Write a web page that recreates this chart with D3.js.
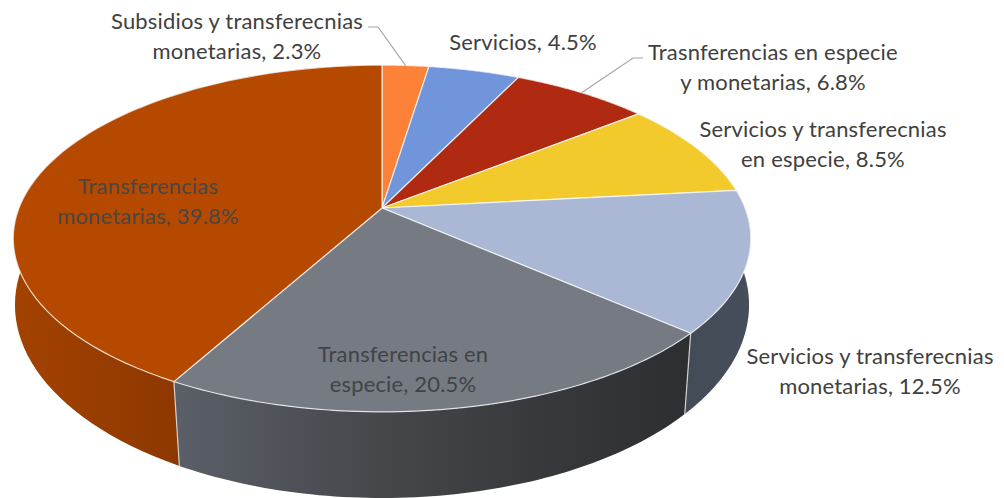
<!DOCTYPE html>
<html><head><meta charset="utf-8">
<script src="https://cdn.jsdelivr.net/npm/d3@7/dist/d3.min.js"></script>
<style>html,body{margin:0;padding:0;background:#fff}svg{display:block}</style>
</head><body><svg id="c" width="1004" height="498"></svg>
<script>
const categories = ["Subsidios y transferecnias monetarias","Servicios","Trasnferencias en especie y monetarias","Servicios y transferecnias en especie","Servicios y transferecnias monetarias","Transferencias en especie","Transferencias monetarias"];
const values = [2.3,4.5,6.8,8.5,12.5,20.5,39.8];
const topColors = ["#fd8237","#7195da","#b02a12","#f2ca2c","#abb8d5","#767a82","#b64900"];
const labelLines = [
  ["Subsidios y transferecnias","monetarias, 2.3%"],
  ["Servicios, 4.5%"],
  ["Trasnferencias en especie","y monetarias, 6.8%"],
  ["Servicios y transferecnias","en especie, 8.5%"],
  ["Servicios y transferecnias","monetarias, 12.5%"],
  ["Transferencias en","especie, 20.5%"],
  ["Transferencias","monetarias, 39.8%"]
];
const labelAnchors = [[237,29],[523,50],[773,60],[823,137],[870,364],[403,362],[148,194]];
const labelColors = ["#404040","#404040","#404040","#404040","#404040","#414347","#4a4644"];

const svg = d3.select("#c");
const pie = d3.pie().sort(null).value(d=>d);
const arcs = pie(values);

// perspective projection of the pie's disc, top face and base
const sx = d3.scaleLinear().domain([-1,1]).range([382-363,382+363]);
const sy = d3.scaleLinear().domain([-1,1]).range([208-168,208+168]);
const sxB = d3.scaleLinear().domain([-1,1]).range([382-362.9,382+362.9]);
const syB = d3.scaleLinear().domain([-1,1]).range([276-188.7,276+188.7]);
function disc(t,k){
  const u=Math.sin(t), v=-Math.cos(t), w=1-k*v;
  return [u/w, v/w];
}
const topPt = t=>{const p=disc(t,0.1758);return [sx(p[0]),sy(p[1])];};
const botPt = t=>{const p=disc(t,0.15);return [sxB(p[0]),syB(p[1])];};
const line = d3.line();
const samples = (a,b)=>d3.range(0,73).map(i=>a+(b-a)*i/72);

// wall shading
const defs = svg.append("defs");
function grad(id,x1,x2,stops){
  const g=defs.append("linearGradient").attr("id",id).attr("gradientUnits","userSpaceOnUse")
    .attr("x1",x1).attr("x2",x2).attr("y1",0).attr("y2",0);
  stops.forEach(s=>g.append("stop").attr("offset",s[0]).attr("stop-color",s[1]));
}
grad("wBrown",14,177,[[0,"#a34200"],[1,"#8d3800"]]);
grad("wGray",172,692,[[0,"#5b5f68"],[0.4,"#45474b"],[0.7,"#37393d"],[1,"#2d2e31"]]);
grad("wBlue",685,751,[[0,"#434b57"],[1,"#464e5b"]]);
const wallFill = ["#c06a2c","#5a77ae","#8a210e","#c2a124","url(#wBlue)","url(#wGray)","url(#wBrown)"];

// walls
svg.append("g").selectAll("path").data(arcs).join("path")
  .attr("d",d=>{
    const s=samples(d.startAngle,d.endAngle);
    return line(s.map(topPt).concat(s.slice().reverse().map(botPt)))+"Z";
  })
  .attr("fill",(d,i)=>wallFill[i]);

// wall separators, only at the front boundaries
svg.append("g").selectAll("line").data([arcs[4].endAngle,arcs[5].endAngle]).join("line")
  .attr("x1",t=>topPt(t)[0]).attr("y1",t=>topPt(t)[1])
  .attr("x2",t=>botPt(t)[0]).attr("y2",t=>botPt(t)[1])
  .attr("stroke","#d0d0d0").attr("stroke-width",1.2);

// top face
const apex = [sx(0),sy(0)];
svg.append("g").selectAll("path").data(arcs).join("path")
  .attr("d",d=>line([apex].concat(samples(d.startAngle,d.endAngle).map(topPt)))+"Z")
  .attr("fill",(d,i)=>topColors[i])
  .attr("stroke","#fff").attr("stroke-opacity",0.75).attr("stroke-width",1.2).attr("stroke-linejoin","round");

// leader lines
const midAngle = d=>(d.startAngle+d.endAngle)/2;
const leaders = [
  {i:0, elbow:[[378,27],[368,27]]},
  {i:2, elbow:[[633,58],[643,58]]}
];
svg.append("g").selectAll("path").data(leaders).join("path")
  .attr("d",l=>line([topPt(midAngle(arcs[l.i]))].concat(l.elbow)))
  .attr("fill","none").attr("stroke","#a6a6a6").attr("stroke-width",1.2);

// labels
const g = svg.append("g").attr("font-family","Lato, sans-serif").attr("font-size",22).attr("letter-spacing",0.18).attr("text-anchor","middle");
labelLines.forEach((ls,i)=>{
  ls.forEach((t,j)=>{
    g.append("text").attr("x",labelAnchors[i][0]).attr("y",labelAnchors[i][1]+j*30)
      .attr("fill",labelColors[i]).text(t);
  });
});
</script></body></html>
